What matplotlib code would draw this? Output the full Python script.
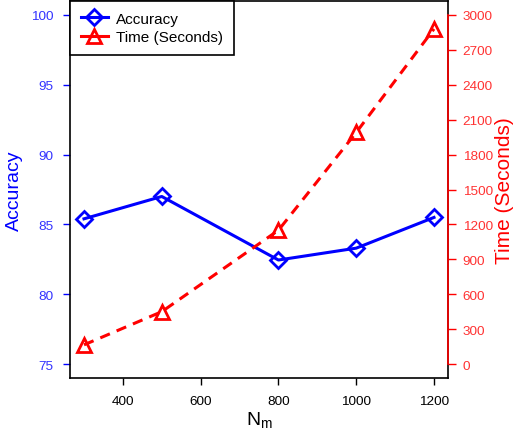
import matplotlib
matplotlib.use('Agg')
import matplotlib.pyplot as plt
from matplotlib.lines import Line2D

plt.rcParams.update({
    'font.family': ['Liberation Sans', 'DejaVu Sans'],
    'font.size': 9.5,
})

# ── Data ─────────────────────────────────────────────────────────────────────
n_m      = [300, 500, 800, 1000, 1200]
accuracy = [85.4, 87.0, 82.45, 83.3, 85.5]
time_sec = [165, 450, 1150, 1990, 2880]

acc_ticks  = [75, 80, 85, 90, 95, 100]
time_ticks = [0, 300, 600, 900, 1200, 1500, 1800, 2100, 2400, 2700, 3000]
x_ticks    = [400, 600, 800, 1000, 1200]

BLUE = '#0000FF'
RED  = '#FF0000'
BLUE_TXT = '#3333FF'
RED_TXT  = '#FF3333'

fig = plt.figure(figsize=(5.16, 4.39), dpi=100)
ax = fig.add_axes([70 / 516, 1 - 379 / 439, 378 / 516, 377 / 439])
ax2 = ax.twinx()

acc_style = dict(color=BLUE, linewidth=2.2, marker='D', markersize=8.5,
                 markerfacecolor='none', markeredgecolor=BLUE,
                 markeredgewidth=2.0)
time_style = dict(color=RED, linewidth=2.2, marker='^', markersize=10,
                  markerfacecolor='none', markeredgecolor=RED,
                  markeredgewidth=2.0)

ax.plot(n_m, accuracy, zorder=3, **acc_style)
ax2.plot(n_m, time_sec, linestyle=(0, (3.4, 2.4)), **time_style)

ax.set_xlim(264, 1236)
ax.set_ylim(74, 101)
ax2.set_ylim(-120, 3120)

ax.set_xticks(x_ticks)
ax.set_yticks(acc_ticks)
ax2.set_yticks(time_ticks)

ax.tick_params(axis='x', direction='out', length=5, width=1, pad=7,
               colors='black', labelsize=9.7)
ax.tick_params(axis='y', direction='out', length=5, width=1, pad=7,
               color=BLUE, labelcolor=BLUE_TXT, labelsize=9.7)
ax2.tick_params(axis='y', direction='out', length=5.5, width=1, pad=5,
                color=RED, labelcolor=RED_TXT, labelsize=9.7)

for sp in ax.spines.values():
    sp.set_linewidth(1.2)
for sp in ax2.spines.values():
    sp.set_visible(False)
ax2.spines['right'].set_visible(True)
ax2.spines['right'].set_color(RED)
ax2.spines['right'].set_linewidth(1.2)
ax2.spines['right'].set_bounds(0, 3000)

ax.set_xlabel(r'$\mathregular{N_m}$', fontsize=14, labelpad=2)
ax.set_ylabel('Accuracy', color=BLUE, fontsize=14, labelpad=6)
ax2.set_ylabel('Time (Seconds)', color=RED, fontsize=15, labelpad=2)

handles = [Line2D([], [], **acc_style), Line2D([], [], **time_style)]
leg = ax2.legend(handles, ['Accuracy', 'Time (Seconds)'], loc='upper left',
                 bbox_to_anchor=(0, 1), borderaxespad=0, fancybox=False,
                 framealpha=1, edgecolor='black', fontsize=11,
                 handlelength=1.8, handletextpad=0.5, borderpad=0.7,
                 labelspacing=0.3)
leg.get_frame().set_linewidth(1.2)

fig.savefig('out.png', dpi=100)
